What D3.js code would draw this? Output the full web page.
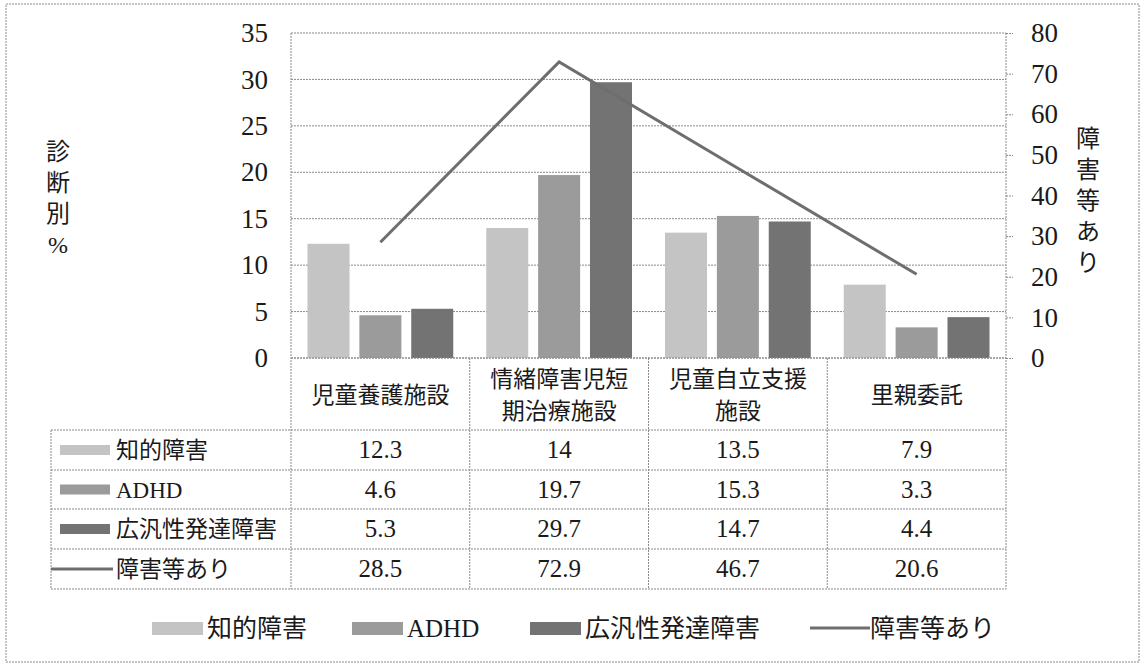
<!DOCTYPE html>
<html>
  <head>
    <meta charset="utf-8">
    <title>診断別%</title>
    <script src="https://cdn.jsdelivr.net/npm/d3@7"></script>
    <style>
      body { margin: 0; background: #fff; }
      svg text { font-family: "Liberation Serif", "Noto Sans CJK JP", serif; fill: #1a1a1a; }
      .grid line, .frame { stroke: #8a8a8a; stroke-width: 1px; stroke-dasharray: 2,1; fill: none; }
      .axis path { display: none; }
      .axis line { stroke: #8a8a8a; }
    </style>
  </head>
  <body>
    <div id="chart"></div>
    <script>
      // data
      var categories = ["児童養護施設", "情緒障害児短期治療施設", "児童自立支援施設", "里親委託"];
      var categoryLines = [["児童養護施設"], ["情緒障害児短", "期治療施設"], ["児童自立支援", "施設"], ["里親委託"]];
      var seriesNames = ["知的障害", "ADHD", "広汎性発達障害"];
      var intellectual = [12.3, 14, 13.5, 7.9];
      var adhd = [4.6, 19.7, 15.3, 3.3];
      var pervasive = [5.3, 29.7, 14.7, 4.4];
      var lineName = "障害等あり";
      var anyDisorder = [28.5, 72.9, 46.7, 20.6];
      var seriesColors = ["#c4c4c4", "#9b9b9b", "#737373"];
      var lineColor = "#6e6e6e";

      var seriesValues = [intellectual, adhd, pervasive];

      var width = 1141, height = 665;
      var plot = { left: 291, right: 1006, top: 33, bottom: 358 };
      var tableLeft = 51;
      var rowEdges = [430, 470, 509, 549, 589];

      var svg = d3.select("#chart").append("svg")
          .attr("width", width)
          .attr("height", height);

      // outer dotted border
      svg.append("rect")
          .attr("class", "frame")
          .attr("x", 6).attr("y", 4)
          .attr("width", 1133).attr("height", 658);

      var x0 = d3.scaleBand()
          .domain(categories)
          .range([plot.left, plot.right]);

      var x1 = d3.scaleBand()
          .domain(seriesNames)
          .range([0, x0.bandwidth()])
          .paddingInner(0.19)
          .paddingOuter(0.318);

      var y = d3.scaleLinear().domain([0, 35]).range([plot.bottom, plot.top]);
      var y2 = d3.scaleLinear().domain([0, 80]).range([plot.bottom, plot.top]);

      // gridlines
      svg.append("g")
          .attr("class", "grid")
          .selectAll("line")
          .data(y.ticks(7))
          .enter()
          .append("line")
            .attr("x1", plot.left).attr("x2", plot.right)
            .attr("y1", function (d) { return y(d); })
            .attr("y2", function (d) { return y(d); });

      // left frame line
      svg.append("line")
          .attr("class", "frame")
          .attr("x1", plot.left).attr("x2", plot.left)
          .attr("y1", plot.top).attr("y2", rowEdges[4]);

      // left axis
      var leftAxis = svg.append("g")
          .attr("class", "axis")
          .attr("transform", "translate(" + (plot.left - 23) + ",0)")
          .call(d3.axisLeft(y).ticks(7).tickSize(0).tickPadding(0));
      leftAxis.selectAll("text").style("font-size", "27px");

      // right axis
      var rightAxis = svg.append("g")
          .attr("class", "axis")
          .attr("transform", "translate(" + plot.right + ",0)")
          .call(d3.axisRight(y2).ticks(8).tickSize(7).tickPadding(18));
      rightAxis.selectAll("text").style("font-size", "27px");
      rightAxis.selectAll("line").style("stroke-dasharray", "2,1");
      svg.append("line")
          .attr("class", "frame")
          .attr("x1", plot.right).attr("x2", plot.right)
          .attr("y1", plot.top).attr("y2", rowEdges[4]);

      // axis titles, stacked vertically
      var leftTitle = ["診", "断", "別", "%"];
      svg.selectAll(".ltitle")
          .data(leftTitle)
          .enter()
          .append("text")
            .attr("class", "ltitle")
            .attr("x", 58)
            .attr("y", function (d, i) { return 160 + i * 31; })
            .attr("text-anchor", "middle")
            .style("font-size", "24px")
            .text(function (d) { return d; });

      var rightTitle = ["障", "害", "等", "あ", "り"];
      svg.selectAll(".rtitle")
          .data(rightTitle)
          .enter()
          .append("text")
            .attr("class", "rtitle")
            .attr("x", 1088)
            .attr("y", function (d, i) { return 147 + i * 31; })
            .attr("text-anchor", "middle")
            .style("font-size", "24px")
            .text(function (d) { return d; });

      // bars
      seriesNames.forEach(function (name, s) {
        svg.append("g")
          .selectAll("rect")
          .data(seriesValues[s])
          .enter()
          .append("rect")
            .attr("x", function (d, i) { return x0(categories[i]) + x1(name); })
            .attr("y", function (d) { return y(d); })
            .attr("width", x1.bandwidth())
            .attr("height", function (d) { return plot.bottom - y(d); })
            .style("fill", seriesColors[s]);
      });

      // line on right axis
      var line = d3.line()
          .x(function (d, i) { return x0(categories[i]) + x0.bandwidth() / 2; })
          .y(function (d) { return y2(d); });

      svg.append("path")
          .datum(anyDisorder)
          .attr("d", line)
          .style("fill", "none")
          .style("stroke", lineColor)
          .style("stroke-width", 3);

      // x axis line
      svg.append("line")
          .attr("class", "frame")
          .attr("x1", plot.left).attr("x2", plot.right)
          .attr("y1", plot.bottom).attr("y2", plot.bottom);

      // category labels
      categories.forEach(function (c, i) {
        var lines = categoryLines[i];
        var cx = x0(c) + x0.bandwidth() / 2;
        var start = lines.length == 1 ? 403 : 387;
        lines.forEach(function (t, j) {
          svg.append("text")
            .attr("x", cx)
            .attr("y", start + j * 32)
            .attr("text-anchor", "middle")
            .style("font-size", "23px")
            .text(t);
        });
      });

      // data table
      var table = svg.append("g");
      rowEdges.forEach(function (ry, i) {
        table.append("line")
          .attr("class", "frame")
          .attr("x1", tableLeft).attr("x2", plot.right)
          .attr("y1", ry).attr("y2", ry);
      });
      table.append("line")
          .attr("class", "frame")
          .attr("x1", tableLeft).attr("x2", tableLeft)
          .attr("y1", rowEdges[0]).attr("y2", rowEdges[4]);
      categories.forEach(function (c, i) {
        if (i == 0) return;
        table.append("line")
          .attr("class", "frame")
          .attr("x1", x0(c)).attr("x2", x0(c))
          .attr("y1", plot.bottom).attr("y2", rowEdges[4]);
      });

      var rowNames = seriesNames.concat([lineName]);
      var rowValues = seriesValues.concat([anyDisorder]);
      rowNames.forEach(function (name, r) {
        var cy = (rowEdges[r] + rowEdges[r + 1]) / 2;
        if (r < 3) {
          table.append("rect")
            .attr("x", 60).attr("y", cy - 5)
            .attr("width", 50).attr("height", 10)
            .style("fill", seriesColors[r]);
        } else {
          table.append("line")
            .attr("x1", 51).attr("x2", 113)
            .attr("y1", cy).attr("y2", cy)
            .style("stroke", lineColor)
            .style("stroke-width", 3);
        }
        table.append("text")
          .attr("x", 116)
          .attr("y", cy + 8)
          .style("font-size", "23px")
          .text(name);
        rowValues[r].forEach(function (v, i) {
          table.append("text")
            .attr("x", x0(categories[i]) + x0.bandwidth() / 2)
            .attr("y", cy + 8)
            .attr("text-anchor", "middle")
            .style("font-size", "25px")
            .text(v);
        });
      });

      // legend
      var legendX = [152, 352, 530, 810];
      var legend = svg.append("g");
      rowNames.forEach(function (name, k) {
        var lx = legendX[k];
        if (k < 3) {
          legend.append("rect")
            .attr("x", lx).attr("y", 622)
            .attr("width", 51).attr("height", 13)
            .style("fill", seriesColors[k]);
        } else {
          legend.append("line")
            .attr("x1", lx).attr("x2", lx + 60)
            .attr("y1", 628).attr("y2", 628)
            .style("stroke", lineColor)
            .style("stroke-width", 3);
        }
        legend.append("text")
          .attr("x", k < 3 ? lx + 55 : lx + 60)
          .attr("y", 637)
          .style("font-size", "25px")
          .text(name);
      });
    </script>
  </body>
</html>
